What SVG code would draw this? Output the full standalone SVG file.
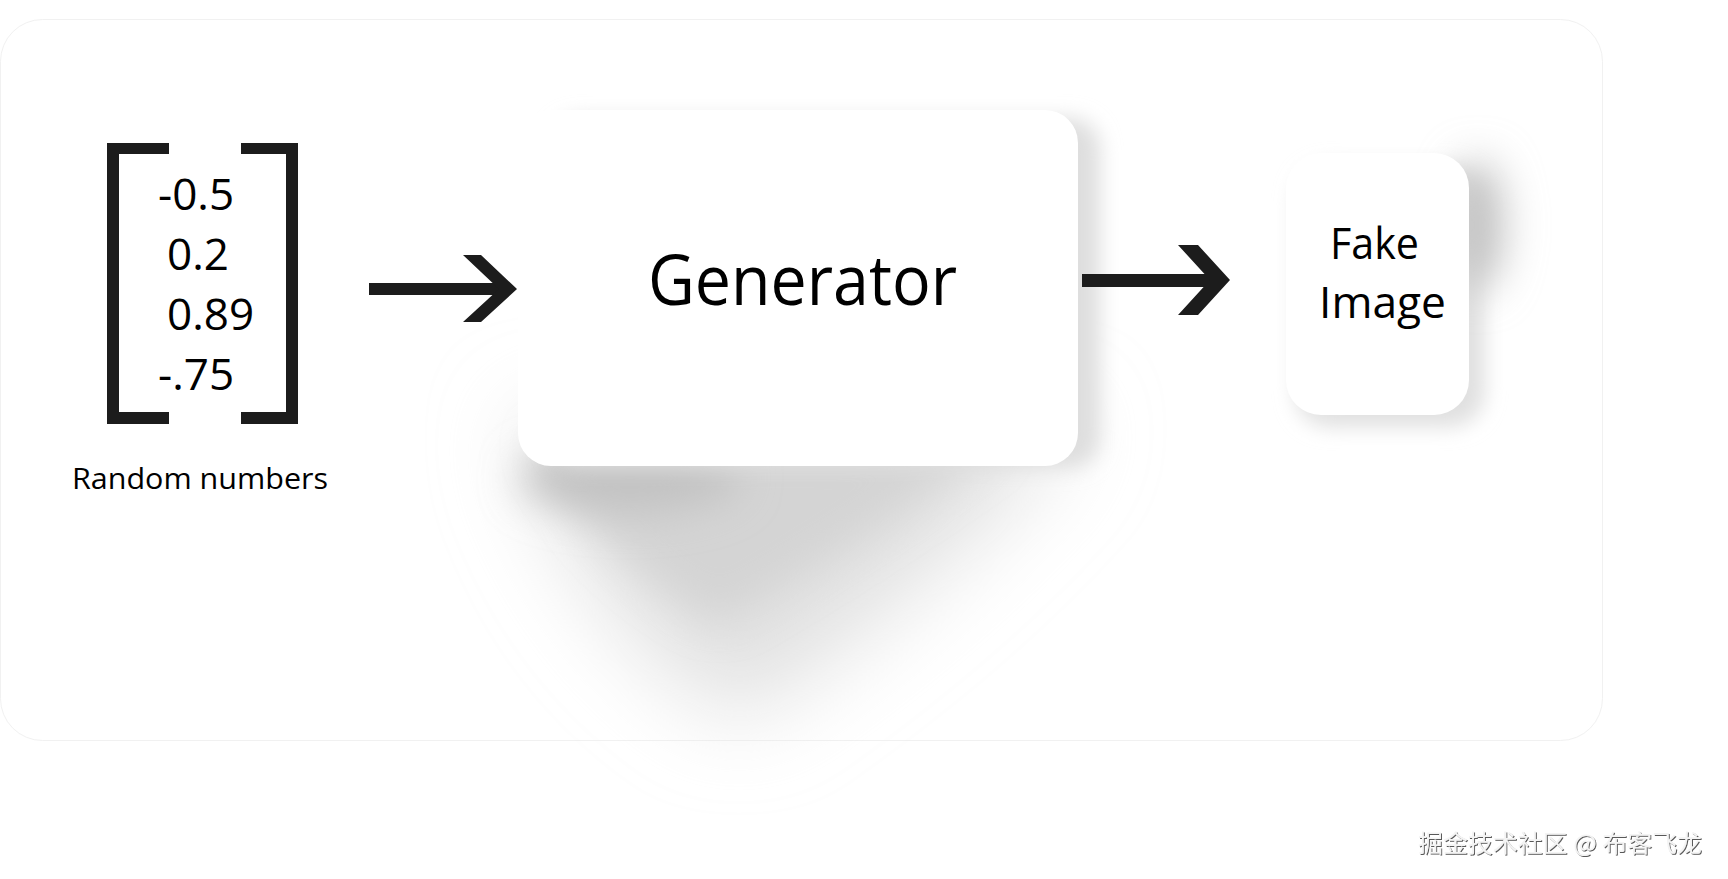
<svg xmlns="http://www.w3.org/2000/svg" width="1728" height="879" viewBox="0 0 1728 879">
  <style>
    .num { font-family: "Open Sans", "Noto Sans", sans-serif; font-size: 44px; fill: #000; }
    .lbl { font-family: "Open Sans", "Noto Sans", sans-serif; fill: #000; }
    .ink { fill: #1c1c1c; }
    .card { fill: #ffffff; }
  </style>
  <defs>
    <filter id="blurL" filterUnits="userSpaceOnUse" x="200" y="150" width="1200" height="800"><feGaussianBlur stdDeviation="45"/></filter>
    <filter id="blurM" x="-100%" y="-100%" width="300%" height="300%"><feGaussianBlur stdDeviation="20"/></filter>
    <filter id="blurS" x="-60%" y="-60%" width="220%" height="220%"><feGaussianBlur stdDeviation="10"/></filter>
    <filter id="wm" x="-10%" y="-30%" width="120%" height="160%">
      <feDropShadow dx="1" dy="1" stdDeviation="0.7" flood-color="#444" flood-opacity="0.9"/>
    </filter>
  </defs>

  <rect width="1728" height="879" fill="#ffffff"/>

  <g id="background-card">
    <rect x="0.5" y="19.5" width="1602" height="721" rx="42" fill="#ffffff" stroke="#f1f1f1" stroke-width="1"/>
  </g>

  <g id="shadows">
    <path d="M 520 420 L 1080 420 Q 960 570 740 720 Q 570 620 520 420 Z" fill="#e0e0e0" filter="url(#blurL)"/>
    <path d="M 540 440 L 1000 440 Q 860 540 720 620 Q 600 560 540 440 Z" fill="#d4d4d4" filter="url(#blurM)"/>
    <ellipse cx="630" cy="478" rx="110" ry="34" fill="#c2c2c2" filter="url(#blurM)"/>
    <rect x="550" y="118" width="550" height="350" rx="30" fill="#dedede" filter="url(#blurS)"/>
    <rect x="1295" y="165" width="190" height="262" rx="35" fill="#e0e0e0" filter="url(#blurS)"/>
    <ellipse cx="1478" cy="225" rx="26" ry="66" fill="#c2c2c2" filter="url(#blurM)"/>
  </g>

  <g id="node-random-numbers">
    <path class="ink" d="M107 143 H169 V154 H119 V412 H169 V424 H107 Z"/>
    <path class="ink" d="M241 143 H298 V424 H241 V412 H286 V154 H241 Z"/>
    <text class="num" x="158" y="210">-0.5</text>
    <text class="num" x="167" y="270">0.2</text>
    <text class="num" x="167" y="330">0.89</text>
    <text class="num" x="158" y="390">-.75</text>
    <text class="lbl" x="72" y="489" font-size="29" textLength="256" lengthAdjust="spacingAndGlyphs">Random numbers</text>
  </g>

  <g id="node-generator">
    <rect class="card" x="518" y="110" width="560" height="356" rx="33"/>
    <text class="lbl" x="648" y="305" font-size="70" textLength="309" lengthAdjust="spacingAndGlyphs">Generator</text>
  </g>

  <g id="node-fake-image">
    <rect class="card" x="1286" y="153" width="183" height="262" rx="35"/>
    <text class="lbl" x="1330" y="259" font-size="44" textLength="89" lengthAdjust="spacingAndGlyphs">Fake</text>
    <text class="lbl" x="1319" y="318" font-size="44" textLength="127" lengthAdjust="spacingAndGlyphs">Image</text>
  </g>

  <g id="connectors">
    <g id="arrow-1">
      <rect class="ink" x="369" y="283" width="134" height="12"/>
      <polygon class="ink" points="463,255 481,255 517,289 481,322 463,322 499,289"/>
    </g>
    <g id="arrow-2">
      <rect class="ink" x="1082" y="274" width="134" height="13"/>
      <polygon class="ink" points="1178,245 1198,245 1230,280 1198,315 1178,315 1210,280"/>
    </g>
  </g>

  <g id="watermark">
    <text x="1418" y="852" font-family="'Noto Sans CJK SC', 'Noto Sans', sans-serif" font-size="24" fill="#f4f4f4" filter="url(#wm)" textLength="284" lengthAdjust="spacingAndGlyphs">掘金技术社区 @ 布客飞龙</text>
  </g>
</svg>
